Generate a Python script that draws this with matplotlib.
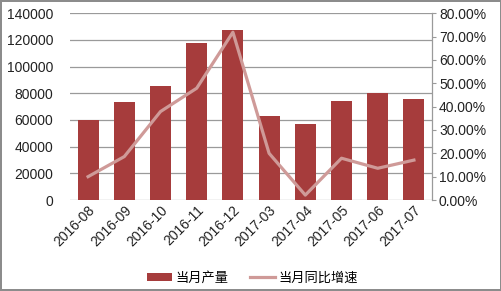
import matplotlib.pyplot as plt
from matplotlib.ticker import FuncFormatter
import numpy as np

plt.rcParams['font.family'] = ['Liberation Sans', 'Noto Sans CJK SC', 'DejaVu Sans']

months = ['2016-08', '2016-09', '2016-10', '2016-11', '2016-12',
          '2017-03', '2017-04', '2017-05', '2017-06', '2017-07']
output = [60000, 73500, 85500, 117500, 127500, 63000, 57000, 74000, 80500, 76000]
growth = [10.0, 18.6, 37.9, 47.9, 71.9, 20.0, 2.1, 17.9, 13.6, 17.1]

bar_color = '#a63c3c'
line_color = '#cf9a98'
grid_color = '#9a9a9a'

fig = plt.figure(figsize=(5.02, 2.91), dpi=100)
fig.patch.set_edgecolor('#8c8c8c')
fig.patch.set_linewidth(1.5)
ax = fig.add_axes([0.1394, 0.3127, 0.7212, 0.6416])
ax2 = ax.twinx()

x = np.arange(len(months))
ax.bar(x, output, width=0.58, color=bar_color, label='当月产量', zorder=3)
ax2.plot(x, growth, color=line_color, lw=2.3, label='当月同比增速', zorder=4)

ax.set_xlim(-0.5, len(months) - 0.5)
ax.set_ylim(0, 140000)
ax.set_yticks(range(0, 140001, 20000))
ax2.set_ylim(0, 80)
ax2.set_yticks(range(0, 81, 10))
ax2.yaxis.set_major_formatter(FuncFormatter(lambda v, p: f'{v:.2f}%'))

ax.yaxis.grid(True, color=grid_color, lw=0.9, zorder=0)
ax.set_axisbelow(True)
for s in ['top', 'left', 'right', 'bottom']:
    ax.spines[s].set_visible(False)
for s in ['top', 'left', 'bottom']:
    ax2.spines[s].set_visible(False)
ax2.spines['right'].set_color(grid_color)
ax2.spines['right'].set_linewidth(0.9)

ax.tick_params(axis='y', length=0, labelsize=10, pad=12, colors='#222222')
ax.tick_params(axis='x', length=0, labelsize=10, pad=2, colors='#222222')
ax2.tick_params(axis='y', length=3, color=grid_color, labelsize=10, pad=2, labelcolor='#222222')

ax.set_xticks(x)
ax.set_xticklabels(months, rotation=45, ha='right', rotation_mode='anchor')

h1, l1 = ax.get_legend_handles_labels()
h2, l2 = ax2.get_legend_handles_labels()
fig.legend(h1 + h2, l1 + l2, loc='center', bbox_to_anchor=(0.503, 0.045), ncol=2,
           frameon=False, handlelength=1.9, handleheight=0.6,
           columnspacing=1.6, handletextpad=0.3,
           prop={'family': ['Noto Sans CJK SC', 'DejaVu Sans'], 'size': 9.5})

fig.savefig('out.png', dpi=100, edgecolor=fig.get_edgecolor())
